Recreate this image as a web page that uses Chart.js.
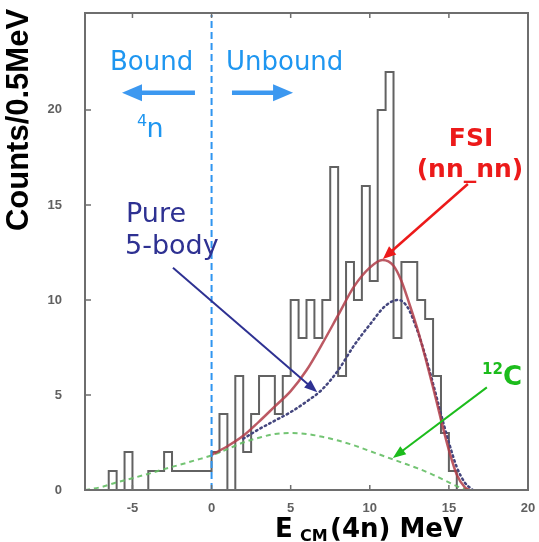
<!DOCTYPE html>
<html lang="en">
<head>
<meta charset="UTF-8">
<title>4n energy spectrum</title>
<script src="https://cdn.jsdelivr.net/npm/chart.js"></script>
<style>
  body { margin: 0; background: #fff; }
  #wrap { width: 539px; height: 542px; }
</style>
</head>
<body>
<div id="wrap"><canvas id="spectrum" width="539" height="542"></canvas></div>
<script>
// measured counts, 0.5 MeV bins starting at -8 MeV
const binStart = -8;
const binWidth = 0.5;
const counts = [0, 0, 0, 1, 0, 2, 0, 0, 1, 1, 2, 1, 1, 1, 1, 1,
                2, 4, 0, 6, 2, 4, 6, 6, 4, 6,
                10, 8, 10, 8, 10, 17, 6, 12, 10, 16, 11, 20, 22, 8, 12, 12, 10, 9, 6, 3, 1];

// FSI (nn_nn) calculation
const fsiE = [0, 1, 2, 3, 4, 5, 6, 7, 8, 9, 10, 10.8, 11.5, 12, 12.5, 13, 13.5, 14, 14.5, 15, 15.5, 16, 16.3];
const fsiC = [1.85, 2.3, 2.85, 3.6, 4.4, 5.2, 6.3, 7.7, 9.2, 10.7, 11.7, 12.1, 11.8, 11.0, 9.8, 8.5, 7.0, 5.4, 3.7, 2.1, 0.8, 0.15, 0];

// pure 5-body phase space
const bodyE = [2, 3, 4, 5, 6, 7, 8, 9, 10, 11, 11.8, 12.4, 13, 13.5, 14, 14.5, 15, 15.5, 16, 16.5];
const bodyC = [2.7, 3.2, 3.65, 4.1, 4.65, 5.3, 6.3, 7.6, 8.7, 9.7, 10.0, 9.6, 8.4, 7.1, 5.6, 4.0, 2.5, 1.2, 0.4, 0];

// 12C target background
const carbonE = [-8, -7, -6, -5, -4, -3, -2, -1, 0, 1, 2, 3, 4, 5, 6, 7, 8, 9, 10, 11, 12, 13, 14, 15, 15.5, 16, 16.5];
const carbonC = [0, 0.15, 0.4, 0.62, 0.85, 1.1, 1.33, 1.57, 1.82, 2.15, 2.5, 2.75, 2.95, 3.0, 2.95, 2.8, 2.6, 2.35, 2.05, 1.75, 1.45, 1.15, 0.8, 0.4, 0.2, 0.05, 0];

const xTicks = [-5, 0, 5, 10, 15, 20];
const yTicks = [0, 5, 10, 15, 20];

const pts = (xs, ys) => xs.map((x, i) => ({ x: x, y: ys[i] }));

// step outline of the histogram
const histPts = counts.map((c, i) => ({ x: binStart + i * binWidth, y: c }));
histPts.push({ x: binStart + counts.length * binWidth, y: 0 });
histPts.push({ x: 20, y: 0 });

const FONT = '"DejaVu Sans", sans-serif';

function arrow(ctx, a, b, color, width, headLen, headWid) {
  const ang = Math.atan2(b.y - a.y, b.x - a.x);
  const bx = b.x - Math.cos(ang) * headLen * 0.8;
  const by = b.y - Math.sin(ang) * headLen * 0.8;
  ctx.strokeStyle = color;
  ctx.fillStyle = color;
  ctx.lineWidth = width;
  ctx.beginPath();
  ctx.moveTo(a.x, a.y);
  ctx.lineTo(bx, by);
  ctx.stroke();
  ctx.beginPath();
  ctx.moveTo(b.x, b.y);
  ctx.lineTo(b.x - Math.cos(ang) * headLen + Math.sin(ang) * headWid / 2,
             b.y - Math.sin(ang) * headLen - Math.cos(ang) * headWid / 2);
  ctx.lineTo(b.x - Math.cos(ang) * headLen - Math.sin(ang) * headWid / 2,
             b.y - Math.sin(ang) * headLen + Math.cos(ang) * headWid / 2);
  ctx.closePath();
  ctx.fill();
}

const decor = {
  id: 'decor',
  afterDraw(chart) {
    const ctx = chart.ctx;
    const xs = chart.scales.x, ys = chart.scales.y;
    const area = chart.chartArea;
    const P = (e, c) => ({ x: xs.getPixelForValue(e), y: ys.getPixelForValue(c) });
    ctx.save();
    ctx.textBaseline = 'alphabetic';

    // frame and inward ticks
    ctx.strokeStyle = '#6e6e6e';
    ctx.lineWidth = 2;
    ctx.strokeRect(area.left, area.top, area.right - area.left, area.bottom - area.top);
    ctx.lineWidth = 1.5;
    ctx.beginPath();
    xTicks.forEach(t => {
      const x = xs.getPixelForValue(t);
      ctx.moveTo(x, area.top); ctx.lineTo(x, area.top + 5);
      ctx.moveTo(x, area.bottom); ctx.lineTo(x, area.bottom - 5);
    });
    yTicks.forEach(t => {
      const y = ys.getPixelForValue(t);
      ctx.moveTo(area.left, y); ctx.lineTo(area.left + 6, y);
    });
    ctx.stroke();

    // axis titles
    ctx.fillStyle = '#000';
    ctx.save();
    ctx.translate(28, 120);
    ctx.rotate(-Math.PI / 2);
    ctx.font = 'bold 31px "Liberation Sans", Arial, sans-serif';
    ctx.textAlign = 'center';
    ctx.fillText('Counts/0.5MeV', 0, 0);
    ctx.restore();

    ctx.textAlign = 'left';
    ctx.font = 'bold 26px ' + FONT;
    ctx.fillText('E', 275, 537);
    ctx.font = 'bold 16px ' + FONT;
    ctx.fillText('CM', 300, 541);
    ctx.font = 'bold 26px ' + FONT;
    ctx.fillText('(4n) MeV', 330, 537);

    // bound / unbound labels
    const blue = '#1e96f0';
    ctx.fillStyle = blue;
    ctx.font = '26px ' + FONT;
    let p = P(-6.42, 22.1);
    ctx.fillText('Bound', p.x, p.y);
    p = P(0.91, 22.1);
    ctx.fillText('Unbound', p.x, p.y);
    arrow(ctx, P(-1.05, 20.9), P(-5.66, 20.9), '#3c98f0', 4.5, 20, 17);
    arrow(ctx, P(1.29, 20.9), P(5.15, 20.9), '#3c98f0', 4.5, 20, 17);
    ctx.fillStyle = blue;
    ctx.font = '16px ' + FONT;
    p = P(-4.72, 19.18);
    ctx.fillText('4', p.x, p.y);
    ctx.font = '27px ' + FONT;
    p = P(-4.12, 18.6);
    ctx.fillText('n', p.x, p.y);

    // FSI label
    const red = '#ec1a1a';
    ctx.fillStyle = red;
    ctx.textAlign = 'center';
    ctx.font = 'bold 25px ' + FONT;
    p = P(16.4, 18.1);
    ctx.fillText('FSI', p.x, p.y);
    p = P(16.33, 16.46);
    ctx.fillText('(nn_nn)', p.x, p.y);
    arrow(ctx, P(16.2, 16.1), P(10.83, 12.16), red, 2.5, 13, 11);

    // 5-body label
    const navy = '#2e3192';
    ctx.fillStyle = navy;
    ctx.textAlign = 'left';
    ctx.font = '27px ' + FONT;
    p = P(-5.41, 14.1);
    ctx.fillText('Pure', p.x, p.y);
    p = P(-5.47, 12.42);
    ctx.fillText('5-body', p.x, p.y);
    arrow(ctx, P(-2.44, 11.69), P(6.68, 5.14), navy, 2, 13, 10);

    // 12C label
    const green = '#1cbc1c';
    ctx.fillStyle = green;
    ctx.font = 'bold 15px ' + FONT;
    p = P(17.09, 6.08);
    ctx.fillText('12', p.x, p.y);
    ctx.font = 'bold 26px ' + FONT;
    p = P(18.42, 5.55);
    ctx.fillText('C', p.x, p.y);
    arrow(ctx, P(17.4, 5.4), P(11.46, 1.68), green, 2, 13, 10);

    ctx.restore();
  }
};

new Chart(document.getElementById('spectrum'), {
  type: 'scatter',
  data: {
    datasets: [
      {
        label: 'E = 0',
        data: [{ x: 0, y: 0 }, { x: 0, y: 25 }],
        showLine: true,
        borderColor: '#2f95f0',
        borderWidth: 2,
        borderDash: [7, 4],
        pointRadius: 0
      },
      {
        label: 'FSI (nn_nn)',
        data: pts(fsiE, fsiC),
        showLine: true,
        borderColor: 'rgba(176, 60, 72, 0.85)',
        borderWidth: 2.5,
        cubicInterpolationMode: 'monotone',
        pointRadius: 0
      },
      {
        label: 'Pure 5-body',
        data: pts(bodyE, bodyC),
        showLine: true,
        borderColor: '#44467e',
        borderWidth: 2.5,
        borderDash: [1.5, 3.5],
        borderCapStyle: 'round',
        cubicInterpolationMode: 'monotone',
        pointRadius: 0
      },
      {
        label: '12C',
        data: pts(carbonE, carbonC),
        showLine: true,
        borderColor: 'rgba(100, 190, 100, 0.9)',
        borderWidth: 2,
        borderDash: [5, 4],
        cubicInterpolationMode: 'monotone',
        pointRadius: 0
      },
      {
        label: 'data',
        data: histPts,
        showLine: true,
        stepped: 'before',
        borderColor: '#626262',
        borderWidth: 2,
        pointRadius: 0
      }
    ]
  },
  options: {
    responsive: false,
    devicePixelRatio: 1,
    animation: false,
    layout: { padding: { left: 0, top: 13, right: 11, bottom: 0 } },
    plugins: { legend: { display: false }, tooltip: { enabled: false } },
    scales: {
      x: {
        type: 'linear',
        min: -8,
        max: 20,
        afterBuildTicks: s => { s.ticks = xTicks.map(v => ({ value: v })); },
        afterFit: s => { s.height = 52; s.paddingLeft = 0; s.paddingRight = 0; },
        grid: { display: false },
        border: { display: false },
        ticks: {
          color: '#606060',
          padding: 3,
          maxRotation: 0,
          font: { family: '"Liberation Sans", Arial, sans-serif', size: 13, weight: 'bold' }
        }
      },
      y: {
        min: 0,
        max: 25.1,
        afterBuildTicks: s => { s.ticks = yTicks.map(v => ({ value: v })); },
        afterFit: s => { s.width = 85; s.paddingTop = 0; s.paddingBottom = 0; },
        grid: { display: false },
        border: { display: false },
        ticks: {
          color: '#606060',
          padding: 15,
          font: { family: '"Liberation Sans", Arial, sans-serif', size: 13, weight: 'bold' }
        }
      }
    }
  },
  plugins: [decor]
});
</script>
</body>
</html>
